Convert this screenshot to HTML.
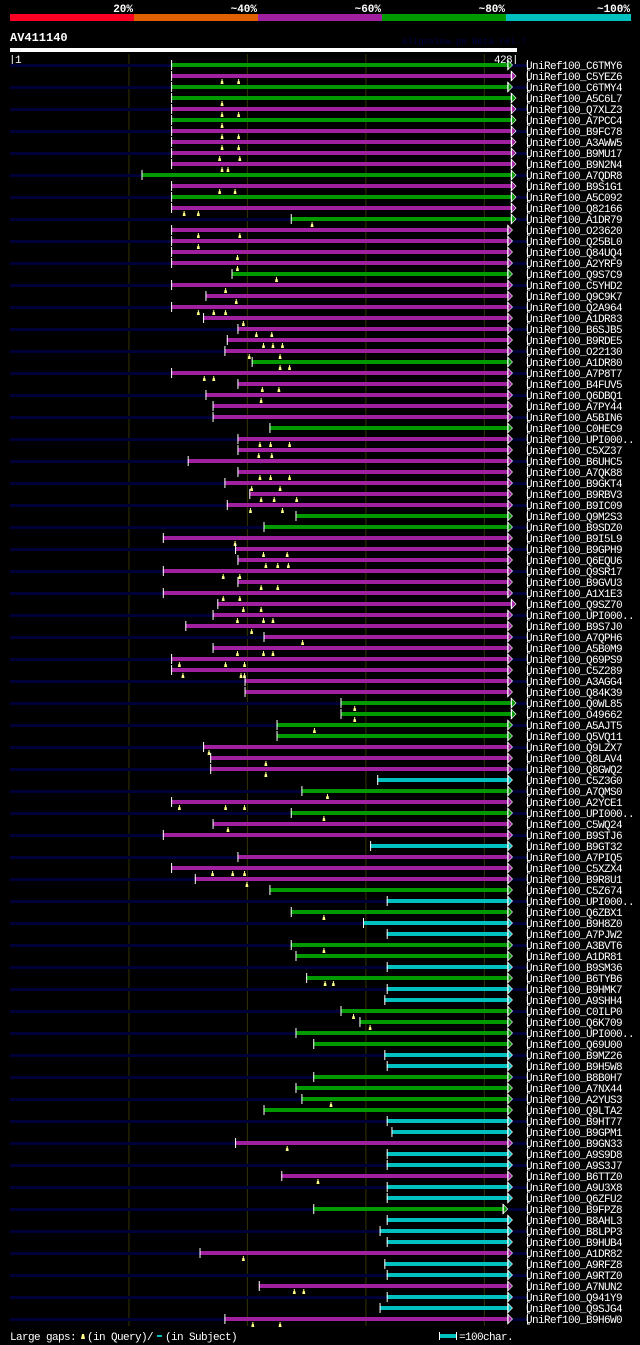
<!DOCTYPE html>
<html><head><meta charset="utf-8"><style>
html,body{margin:0;padding:0;background:#000;width:640px;height:1345px;overflow:hidden}
svg{display:block}
text{font-family:"Liberation Mono",monospace}
</style></head><body>
<svg id="chart" width="640" height="1345" viewBox="0 0 640 1345" xmlns="http://www.w3.org/2000/svg">
<rect x="0" y="0" width="640" height="1345" fill="#000"/>
<g>
<rect x="10" y="14" width="124" height="7" fill="#ff0022"/>
<rect x="134" y="14" width="124" height="7" fill="#e06000"/>
<rect x="258" y="14" width="124" height="7" fill="#a020a0"/>
<rect x="382" y="14" width="124" height="7" fill="#009900"/>
<rect x="506" y="14" width="125" height="7" fill="#00c0c0"/>
<text x="133" y="12" fill="#fff" font-size="11" font-weight="bold" text-anchor="end">20%</text>
<text x="257" y="12" fill="#fff" font-size="11" font-weight="bold" text-anchor="end">~40%</text>
<text x="381" y="12" fill="#fff" font-size="11" font-weight="bold" text-anchor="end">~60%</text>
<text x="505" y="12" fill="#fff" font-size="11" font-weight="bold" text-anchor="end">~80%</text>
<text x="630" y="12" fill="#fff" font-size="11" font-weight="bold" text-anchor="end">~100%</text>
</g>
<text x="10" y="41" fill="#fff" font-size="12" font-weight="bold">AV411140</text>
<text x="402" y="44" fill="#000044" font-size="9">AlignView.pm Beta rel.7</text>
<rect x="10" y="48" width="507" height="4" fill="#fff"/>
<text x="9" y="63" fill="#fff" font-size="11" letter-spacing="-0.6">|1</text>
<text x="518" y="63" fill="#fff" font-size="11" letter-spacing="-0.6" text-anchor="end">428|</text>
<g id="grid"></g>
<g id="rows"></g>
<g>
<text x="10" y="1340" fill="#fff" font-size="11" letter-spacing="-0.6">Large gaps:</text>
<polygon points="81,1339 85,1339 84,1334 82,1334" fill="#ffff88"/>
<text x="87" y="1340" fill="#fff" font-size="11" letter-spacing="-0.6">(in Query)/</text>
<rect x="157" y="1335" width="5" height="2" fill="#00c0c0"/>
<text x="165" y="1340" fill="#fff" font-size="11" letter-spacing="-0.6">(in Subject)</text>
<rect x="439" y="1332" width="1" height="8" fill="#fff"/>
<rect x="440" y="1334" width="16" height="4" fill="#00c0c0"/>
<rect x="456" y="1332" width="1" height="8" fill="#fff"/>
<text x="459" y="1340" fill="#fff" font-size="11" letter-spacing="-0.6">=100char.</text>
</g>
</svg>
<script>
const names=["C6TMY6","C5YEZ6","C6TMY4","A5C6L7","Q7XLZ3","A7PCC4","B9FC78","A3AWW5","B9MU17","B9N2N4","A7QDR8","B9S1G1","A5C092","Q82166","A1DR79","O23620","Q25BL0","Q84UQ4","A2YRF9","Q9S7C9","C5YHD2","Q9C9K7","Q2A964","A1DR83","B6SJB5","B9RDE5","O22130","A1DR80","A7P8T7","B4FUV5","Q6DBQ1","A7PY44","A5BIN6","C0HEC9","UPI000..","C5XZ37","B6UHC5","A7QK88","B9GKT4","B9RBV3","B9IC09","Q9M2S3","B9SDZ0","B9I5L9","B9GPH9","Q6EQU6","Q9SR17","B9GVU3","A1X1E3","Q9SZ70","UPI000..","B9S7J0","A7QPH6","A5B0M9","Q69PS9","C5Z289","A3AGG4","Q84K39","Q0WL85","O49662","A5AJT5","Q5VQ11","Q9LZX7","Q8LAV4","Q8GWQ2","C5Z3G0","A7QMS0","A2YCE1","UPI000..","C5WQ24","B9STJ6","B9GT32","A7PIQ5","C5XZX4","B9R8U1","C5Z674","UPI000..","Q6ZBX1","B9H8Z0","A7PJW2","A3BVT6","A1DR81","B9SM36","B6TYB6","B9HMK7","A9SHH4","C0ILP0","Q6K709","UPI000..","Q69U00","B9MZ26","B9H5W8","B8B0H7","A7NX44","A2YUS3","Q9LTA2","B9HT77","B9GPM1","B9GN33","A9S9D8","A9S3J7","B6TTZ0","A9U3X8","Q6ZFU2","B9FPZ8","B8AHL3","B8LPP3","B9HUB4","A1DR82","A9RFZ8","A9RTZ0","A7NUN2","Q941Y9","Q9SJG4","B9H6W0"];
const identity=["G","P","G","G","P","G","P","P","P","P","G","P","G","P","G","P","P","P","P","G","P","P","P","P","P","P","P","G","P","P","P","P","P","G","P","P","P","P","P","P","P","G","G","P","P","P","P","P","P","P","P","P","P","P","P","P","P","P","G","G","G","G","P","P","P","C","G","P","G","P","P","C","P","P","P","G","C","G","C","C","G","G","C","G","C","C","G","G","G","G","C","C","G","G","G","G","C","C","P","C","C","P","C","C","G","C","C","C","P","C","C","P","C","C","P"];
const starts=[136,136,136,136,136,136,136,136,136,136,111,136,136,136,237,136,136,136,136,187,136,165,136,163,192,183,181,204,136,192,165,171,171,219,192,192,150,192,181,202,183,241,214,129,190,192,129,192,129,175,171,148,214,171,136,136,198,198,279,279,225,225,163,169,169,310,246,136,237,171,129,304,192,136,156,219,318,237,298,318,237,241,318,250,318,316,279,295,241,256,316,318,256,241,246,214,318,322,190,318,318,229,318,318,256,318,312,318,160,316,318,210,318,312,181];
const ends=[420,423,420,423,423,423,423,423,423,423,423,423,423,423,423,420,420,420,420,420,420,420,420,420,420,420,420,420,420,420,420,420,420,420,420,420,420,420,420,420,420,420,420,420,420,420,420,420,420,423,420,420,420,420,420,420,420,420,423,423,420,420,420,420,420,420,420,420,420,420,420,420,420,420,420,420,420,420,420,420,420,420,420,420,420,420,420,420,420,420,420,420,420,420,420,420,420,420,420,420,420,420,420,420,416,420,420,420,420,420,420,420,420,420,420];
const queryGaps=[[],[179,193],[],[179],[179,193],[179],[179,193],[179,193],[177,194],[179,184],[],[177,190],[],[147,159],[255],[159,194],[159],[192],[192],[225],[182],[191],[159,172,182],[197],[208,221],[214,222,230],[202,228],[228,236],[164,172],[213,227],[212],[],[],[],[211,220,236],[210,221],[],[211,220,236],[204,228],[212,223,242],[203,230],[],[],[190],[214,234],[216,226,235],[180,194],[212,226],[180,194],[197,212],[192,214,222],[204],[247],[192,214,222],[143,182,198],[146,195,198],[],[],[291],[291],[257],[],[168],[216],[216],[],[268],[143,182,198],[265],[184],[],[],[],[171,188,198],[200],[],[],[265],[],[],[265],[],[],[266,273],[],[],[290],[304],[],[],[],[],[],[],[271],[],[],[],[234],[],[],[260],[],[],[],[],[],[],[197],[],[],[240,248],[],[],[205,228]];
const gridTicks=[100,200,300,400];
const colorMap={G:"#009900",P:"#a020a0",C:"#00c0c0"};
const NS="http://www.w3.org/2000/svg";
const xScale=q=>10+q*507/428;
const yScale=i=>65+i*11;
function mk(tag,attrs,parent){const e=document.createElementNS(NS,tag);for(const k in attrs)e.setAttribute(k,attrs[k]);parent.appendChild(e);return e;}
const grid=document.getElementById('grid');
gridTicks.forEach(t=>{
  const l=mk('line',{x1:xScale(t)+0.5,x2:xScale(t)+0.5,y1:54,y2:1326,stroke:'#333300','stroke-width':1},grid);
  
  
});
const rows=document.getElementById('rows');
names.forEach((n,i)=>{
  const y=yScale(i);
  const g=mk('g',{},rows);
  
  
  if(i%2===0){
    const nv=mk('rect',{x:10,y:y-1,width:517,height:3,fill:'#000038'},g);
    
    
  }
  const x0=xScale(starts[i]),x1=xScale(ends[i]);
  const col=colorMap[identity[i]];
  const bar=mk('rect',{x:x0,y:y-2,width:x1-x0,height:4,fill:col},g);
  
  
  const tk=mk('rect',{x:x0,y:y-5,width:1,height:10,fill:'#fff'},g);
  
  
  const ar=mk('polygon',{points:`${x1},${y-5} ${x1+5},${y} ${x1},${y+5}`,fill:col,stroke:'#fff','stroke-width':0.6},g);
  
  
  const et=mk('rect',{x:x1,y:y-5,width:1,height:10,fill:'#fff'},g);
  
  
  queryGaps[i].forEach(q=>{
    const mx=xScale(q);
    const m=mk('polygon',{points:`${mx-1.5},${y+8} ${mx+1.5},${y+8} ${mx+1},${y+5} ${mx-1},${y+5}`,fill:'#ffff88'},g);
    
    
    const s=mk('rect',{x:mx-0.5,y:y+3,width:1,height:3,fill:'#ffff88'},g);
    
    
  });
  const br=mk('path',{d:`M527.5 ${y-5} V ${y+5} H 530`,stroke:'#fff','stroke-width':1,fill:'none'},g);
  
  
  const t=mk('text',{x:526,y:y+4,fill:'#fff','font-size':11,'letter-spacing':'-0.6'},g);
  t.textContent='UniRef100_'+n;
  
  
});
</script>
</body></html>
